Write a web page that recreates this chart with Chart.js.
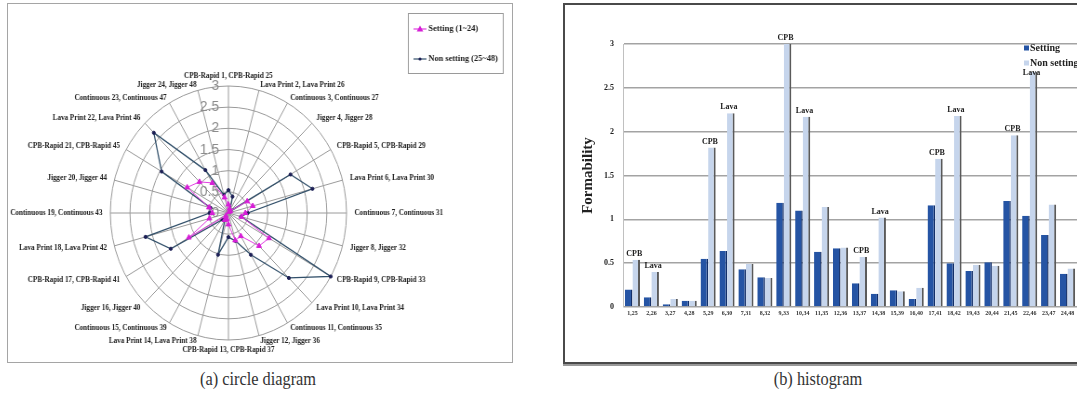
<!DOCTYPE html>
<html>
<head>
<meta charset="utf-8">
<script src="https://cdn.jsdelivr.net/npm/chart.js@4/dist/chart.umd.min.js"></script>
<style>
  html, body { margin: 0; padding: 0; background: #fff; }
  body { width: 1077px; height: 400px; overflow: hidden; position: relative; }
  #boxA { position: absolute; left: 7px; top: 3px; width: 506px; height: 360px; border: 1px solid #a5a5a5; box-sizing: border-box; }
  #radarWrap { position: absolute; left: 8px; top: 4px; width: 542px; height: 358px; transform: scaleX(0.93); transform-origin: 0 0; }
  #boxB { position: absolute; left: 563px; top: 3px; width: 620px; height: 361px; border: 2px solid #4a4a4a; box-sizing: border-box; box-shadow: 0 2px 0 #999; }
  #barWrap { position: absolute; left: 565px; top: 5px; width: 560px; height: 356px; }
  .cap { position: absolute; top: 368px; font-family: "Liberation Serif", serif; font-size: 19px; color: #333; white-space: nowrap; transform: translateX(-50%) scaleX(0.86); }
</style>
</head>
<body>
<div id="boxA"></div>
<div id="radarWrap"><canvas id="radarChart"></canvas></div>
<div id="boxB"></div>
<div id="barWrap"><canvas id="barChart"></canvas></div>
<div class="cap" style="left:258px">(a) circle diagram</div>
<div class="cap" style="left:818px">(b) histogram</div>

<script>
const serif = "'Liberation Serif', 'Times New Roman', serif";

// data
const axisLabels = [
  "CPB-Rapid 1, CPB-Rapid 25", "Lava Print 2, Lava Print 26", "Continuous 3, Continuous 27", "Jigger 4, Jigger 28",
  "CPB-Rapid 5, CPB-Rapid 29", "Lava Print 6, Lava Print 30", "Continuous 7, Continuous 31", "Jigger 8, Jigger 32",
  "CPB-Rapid 9, CPB-Rapid 33", "Lava Print 10, Lava Print 34", "Continuous 11, Continuous 35", "Jigger 12, Jigger 36",
  "CPB-Rapid 13, CPB-Rapid 37", "Lava Print 14, Lava Print 38", "Continuous 15, Continuous 39", "Jigger 16, Jigger 40",
  "CPB-Rapid 17, CPB-Rapid 41", "Lava Print 18, Lava Print 42", "Continuous 19, Continuous 43", "Jigger 20, Jigger 44",
  "CPB-Rapid 21, CPB-Rapid 45", "Lava Print 22, Lava Print 46", "Continuous 23, Continuous 47", "Jigger 24, Jigger 48"
];
const pairLabels = [
  "1,25", "2,26", "3,27", "4,28", "5,29", "6,30", "7,31", "8,32", "9,33", "10,34", "11,35", "12,36",
  "13,37", "14,38", "15,39", "16,40", "17,41", "18,42", "19,43", "20,44", "21,45", "22,46", "23,47", "24,48"
];
const setting = [0.2, 0.11, 0.03, 0.07, 0.55, 0.64, 0.43, 0.34, 1.19, 1.1, 0.63, 0.67,
  0.27, 0.15, 0.19, 0.09, 1.16, 0.5, 0.41, 0.51, 1.21, 1.04, 0.82, 0.38];
const nonSetting = [0.54, 0.4, 0.09, 0.07, 1.82, 2.21, 0.49, 0.33, 3.0, 2.17, 1.14, 0.68,
  0.57, 1.02, 0.18, 0.22, 1.69, 2.18, 0.48, 0.47, 1.96, 2.68, 1.17, 0.44];
const barNotes = ["CPB", "Lava", "", "", "CPB", "Lava", "", "", "CPB", "Lava", "", "",
  "CPB", "Lava", "", "", "CPB", "Lava", "", "", "CPB", "Lava", "", ""];

/* ================= Circle diagram ================= */

const radarText = {
  id: "radarText",
  beforeDatasetsDraw(chart) {
    // value labels along the top spoke
    const r = chart.scales.r;
    const c = chart.ctx;
    c.save();
    c.font = "15px 'Liberation Sans', sans-serif";
    c.fillStyle = "#8c8c8c";
    c.textAlign = "right";
    c.textBaseline = "middle";
    r.ticks.forEach(function (t) {
      c.fillText(String(t.value), r.xCenter - 10, r.yCenter - r.getDistanceFromCenterForValue(t.value));
    });
    c.restore();
  },
  afterDraw(chart) {
    // spoke labels, centred vertically on their anchor like the original
    const r = chart.scales.r;
    const c = chart.ctx;
    const n = chart.data.labels.length;
    c.save();
    c.font = "bold 7.7px " + serif;
    c.fillStyle = "#222";
    c.textBaseline = "middle";
    chart.data.labels.forEach(function (txt, i) {
      const s = Math.sin((i / n) * Math.PI * 2);
      const pad = i % (n / 2) === 0 ? 10 : 5 + 3.5 * s * s;
      const p = r.getPointPosition(i, r.drawingArea + pad);
      const dx = p.x - r.xCenter;
      c.textAlign = Math.abs(dx) < 1 ? "center" : dx > 0 ? "left" : "right";
      c.fillText(txt, p.x, p.y);
    });
    c.restore();
  }
};

const radarLegend = {
  id: "radarLegend",
  afterDraw(chart) {
    const c = chart.ctx;
    const ds = chart.data.datasets;
    c.save();
    c.strokeStyle = "#9a9a9a";
    c.lineWidth = 1;
    c.strokeRect(430.5, 9.5, 102, 60);
    c.font = "bold 9px " + serif;
    c.textBaseline = "middle";
    [25, 55].forEach(function (y, i) {
      c.strokeStyle = ds[i].borderColor;
      c.lineWidth = 1.2;
      c.beginPath();
      c.moveTo(436, y);
      c.lineTo(450, y);
      c.stroke();
      c.fillStyle = ds[i].pointBackgroundColor;
      c.beginPath();
      if (i === 0) {
        c.moveTo(443, y - 3.5);
        c.lineTo(446.5, y + 2.5);
        c.lineTo(439.5, y + 2.5);
        c.closePath();
      } else {
        c.arc(443, y, 1.6, 0, Math.PI * 2);
      }
      c.fill();
      c.fillStyle = "#222";
      c.fillText(ds[i].label, 452, y);
    });
    c.restore();
  }
};

new Chart(document.getElementById("radarChart"), {
  type: "radar",
  data: {
    labels: axisLabels,
    datasets: [
      {
        label: "Setting (1~24)",
        data: setting,
        borderColor: "#e040e0",
        borderWidth: 1,
        pointStyle: "triangle",
        pointRadius: 3,
        pointBackgroundColor: "#d61ed6",
        pointBorderColor: "#d61ed6",
        fill: false,
      },
      {
        label: "Non setting (25~48)",
        data: nonSetting,
        borderColor: "#32506a",
        borderWidth: 1.3,
        pointRadius: 1.6,
        pointBorderWidth: 1,
        pointBackgroundColor: "#1c1f55",
        pointBorderColor: "#1c1f55",
        fill: false,
      },
    ],
  },
  options: {
    animation: false,
    responsive: true,
    maintainAspectRatio: false,
    layout: { padding: { left: 0, right: 67, top: 82, bottom: 22 } },
    elements: { line: { tension: 0 } },
    plugins: { legend: { display: false }, tooltip: { enabled: false } },
    scales: {
      r: {
        min: 0,
        max: 3,
        ticks: { stepSize: 0.5, display: false },
        grid: { circular: true, color: "#9a9a9a", lineWidth: 1 },
        angleLines: { color: "#9a9a9a", lineWidth: 1 },
        pointLabels: { display: false },
      },
    },
  },
  plugins: [radarText, radarLegend],
});

/* ================= Histogram ================= */

const barExtras = {
  id: "barExtras",
  afterDatasetsDraw(chart) {
    const c = chart.ctx;
    const meta = chart.getDatasetMeta(1);
    c.save();
    c.font = "bold 8px " + serif;
    c.fillStyle = "#222";
    c.textAlign = "center";
    c.textBaseline = "bottom";
    barNotes.forEach(function (txt, i) {
      if (!txt) return;
      const bar = meta.data[i];
      let y = bar.y - 2;
      // under the legend the note is pushed down onto the bar top
      if (bar.x > 450) y = Math.max(y, 72);
      c.fillText(txt, bar.x - 2, y);
    });
    // legend
    const ds = chart.data.datasets;
    c.font = "bold 10px " + serif;
    c.textAlign = "left";
    c.textBaseline = "middle";
    [43, 58].forEach(function (y, i) {
      c.fillStyle = ds[i].backgroundColor;
      c.fillRect(459, y - 2.5, 5, 5);
      c.fillStyle = "#222";
      c.fillText(ds[i].label, 465, y);
    });
    c.restore();
  }
};

new Chart(document.getElementById("barChart"), {
  type: "bar",
  data: {
    labels: pairLabels,
    datasets: [
      {
        label: "Setting",
        data: setting,
        backgroundColor: "#2554a4",
        borderColor: "#14306a",
        borderWidth: { top: 0, right: 1.5, bottom: 0, left: 0 },
        barPercentage: 1,
        categoryPercentage: 0.8,
      },
      {
        label: "Non setting",
        data: nonSetting,
        backgroundColor: "#c6d5ec",
        borderColor: "#5a5a5a",
        borderWidth: { top: 0, right: 2, bottom: 0, left: 0 },
        barPercentage: 1,
        categoryPercentage: 0.8,
      },
    ],
  },
  options: {
    animation: false,
    responsive: true,
    maintainAspectRatio: false,
    layout: { padding: { left: 0, right: 48, top: 39, bottom: 0 } },
    plugins: { legend: { display: false }, tooltip: { enabled: false } },
    scales: {
      x: {
        grid: { display: false, drawTicks: false },
        border: { display: false },
        ticks: {
          font: { family: serif, size: 6, weight: "bold" },
          color: "#333",
          maxRotation: 0,
          autoSkip: false,
          padding: 3,
        },
        afterFit: function (s) { s.height = 54; },
      },
      y: {
        min: 0,
        max: 3,
        ticks: {
          stepSize: 0.5,
          font: { family: serif, size: 8, weight: "bold" },
          color: "#222",
          padding: 9,
          callback: function (v) { return String(v); },
        },
        grid: { color: "#a3a3a3", lineWidth: 1.5, drawTicks: false },
        border: { color: "#c0c0c0" },
        title: {
          display: true,
          text: "Formability",
          font: { family: serif, size: 15, weight: "bold" },
          color: "#222",
          padding: { top: 14, bottom: 0 },
        },
        afterFit: function (s) { s.width = 58; },
      },
    },
  },
  plugins: [barExtras],
});
</script>
</body>
</html>
